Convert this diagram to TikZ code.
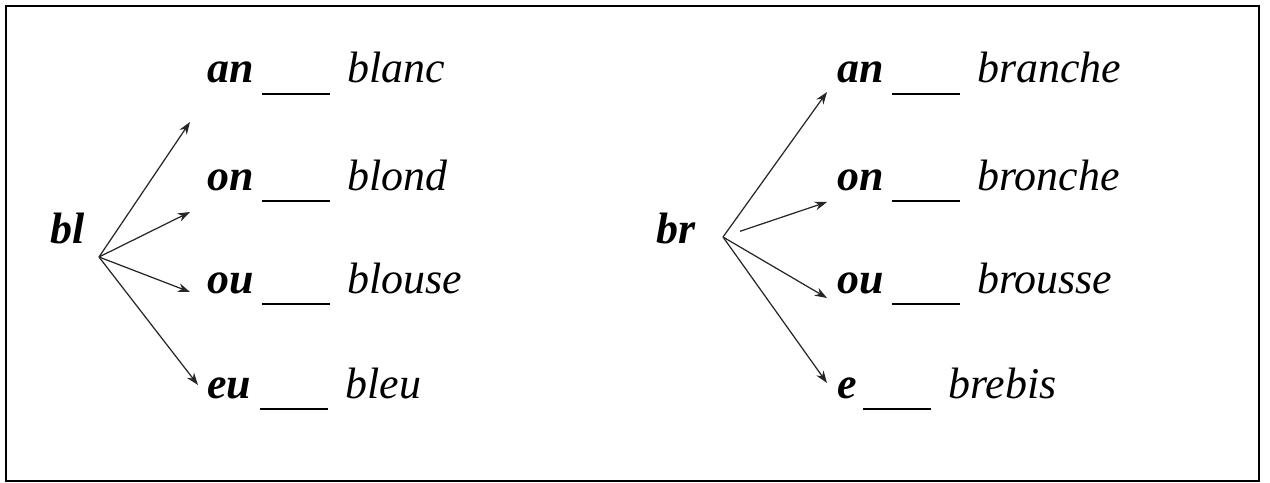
\documentclass[tikz,border=0pt]{standalone}
\usepackage{fontspec}
\setmainfont{Liberation Serif}
\usetikzlibrary{arrows.meta,positioning,calc}

% syllable, blank to fill, word
\newcommand{\fillrow}[3][1.1cm]{\makebox[#1][l]{\textbf{#2}}\rule[-0.24cm]{1.36cm}{1.2pt}\hspace{0.34cm}#3}

\begin{document}
\begin{tikzpicture}[x=0.02cm, y=-0.02cm,
  row/.style={anchor=base west, inner sep=0pt, font=\fontsize{25}{30}\selectfont\itshape},
  root/.style={anchor=base, inner sep=0pt, font=\fontsize{25}{30}\selectfont\bfseries\itshape},
  arr/.style={-{Stealth[length=7pt, width=5pt]}, line width=0.7pt, black!85},
  frame/.style={draw, line width=1.1pt}
]
  \useasboundingbox (0,0) rectangle (1270,483);
  \draw[frame] (6,6) rectangle (1259,481);

  % left group
  \node[root] (bl) at (68,243) {bl};
  \coordinate (blfork) at (99,257);
  \node[row] (an1) at (207,83) {\fillrow{an}{blanc}};
  \node[row] (on1) at (207,190) {\fillrow{on}{blond}};
  \node[row] (ou1) at (207,293) {\fillrow{ou}{blouse}};
  \node[row] (eu1) at (207,398) {\fillrow[1.06cm]{eu}{bleu}};
  \coordinate (an1tip) at (190,122);
  \coordinate (on1tip) at (190,212);
  \coordinate (ou1tip) at (190,292);
  \coordinate (eu1tip) at (198,385);

  % right group
  \node[root] (br) at (676,243) {br};
  \coordinate (brfork) at (723,237);
  \node[row] (an2) at (837,83) {\fillrow{an}{branche}};
  \node[row] (on2) at (837,190) {\fillrow{on}{bronche}};
  \node[row] (ou2) at (837,293) {\fillrow{ou}{brousse}};
  \node[row] (e2) at (837,398) {\fillrow[0.52cm]{e}{brebis}};
  \coordinate (an2tip) at (827,92);
  \coordinate (on2tip) at (827,202);
  \coordinate (ou2tip) at (827,298);
  \coordinate (e2tip) at (827,383);

  \draw[arr] (blfork) -- (an1tip);
  \draw[arr] (blfork) -- (on1tip);
  \draw[arr] (blfork) -- (ou1tip);
  \draw[arr] (blfork) -- (eu1tip);

  \draw[arr] (brfork) -- (an2tip);
  \draw[arr, shorten <=0.36cm] (brfork) -- (on2tip);
  \draw[arr] (brfork) -- (ou2tip);
  \draw[arr] (brfork) -- (e2tip);
\end{tikzpicture}
\end{document}
